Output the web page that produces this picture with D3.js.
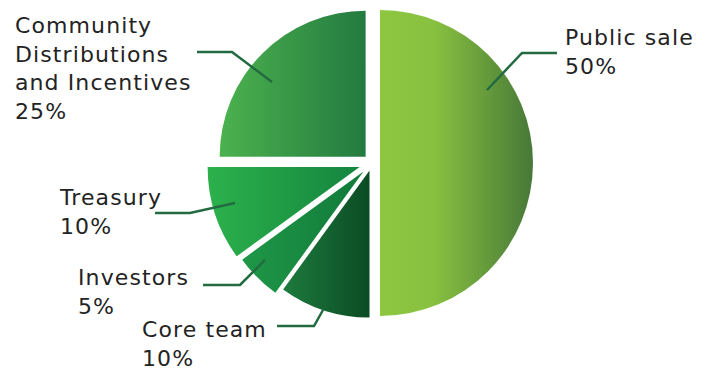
<!DOCTYPE html>
<html>
<head>
<meta charset="utf-8">
<script src="https://cdn.jsdelivr.net/npm/d3@7"></script>
<style>
  body { margin: 0; background: #fff; }
  text { font-family: "DejaVu Sans", sans-serif; fill: #232323; }
</style>
</head>
<body>
<div class="chart"></div>
<script>
// data
var labels = ["Public sale", "Core team", "Investors", "Treasury", "Community Distributions and Incentives"];
var values = [50, 10, 5, 10, 25];
var labelLines = [["Public sale"], ["Core team"], ["Investors"], ["Treasury"], ["Community", "Distributions", "and Incentives"]];

// gradient colours, left -> right
var gradStart = ["#8dc63f", "#1d7b3d", "#1f9747", "#2cb14b", "#4cb24e"];
var gradEnd   = ["#477838", "#0b4b24", "#117a3a", "#14853f", "#237a40"];

var width = 712,
    height = 369,
    cx = 372, cy = 163;

// slices are not all the same size in the original, and each is pulled out a bit
var radii   = [153, 147, 150, 152, 146];
var explode = [8, 8, 12, 13, 9];

// label placement: text anchor + leader line points
var layout = [
  { x: 565, y: 45, line: [[557, 53], [522, 53], [487, 90]] },
  { x: 142, y: 337, line: [[277, 326], [314, 326], [323, 310]] },
  { x: 78,  y: 285, line: [[203, 285], [240, 285], [265, 260]] },
  { x: 60,  y: 205, line: [[155, 213], [190, 213], [235, 203]] },
  { x: 15,  y: 33,  line: [[197, 52], [232, 52], [272, 82]] }
];

var svg = d3.select(".chart")
  .append("svg")
    .attr("width", width)
    .attr("height", height);

var defs = svg.append("defs");

var data = labels.map(function(l, i) { return { label: l, value: values[i], i: i }; });

var pie = d3.pie()
  .sort(null)
  .value(function(d) { return d.value; });

var arcs = pie(data);

var arc = d3.arc()
  .innerRadius(0)
  .outerRadius(function(d) { return radii[d.index]; });

// one horizontal gradient per slice, sized to the slice bounds
arcs.forEach(function(d, i) {
  var g = defs.append("linearGradient")
    .attr("id", "grad" + i)
    .attr("x1", "0").attr("y1", "0")
    .attr("x2", "1").attr("y2", "0");
  g.append("stop").attr("offset", "0").attr("stop-color", gradStart[i]);
  if (i === 0) g.append("stop").attr("offset", "0.35").attr("stop-color", "#88c140");
  g.append("stop").attr("offset", "1").attr("stop-color", gradEnd[i]);
});

var slices = svg.append("g")
  .attr("transform", "translate(" + cx + "," + cy + ")");

slices.selectAll("path")
  .data(arcs)
  .enter()
  .append("path")
    .attr("d", arc)
    .attr("fill", function(d, i) { return "url(#grad" + i + ")"; })
    .attr("transform", function(d, i) {
      var a = (d.startAngle + d.endAngle) / 2;
      return "translate(" + (Math.sin(a) * explode[i]) + "," + (-Math.cos(a) * explode[i]) + ")";
    });

// leader lines
svg.append("g")
  .selectAll("path")
  .data(layout)
  .enter()
  .append("path")
    .attr("d", function(d) { return d3.line()(d.line); })
    .attr("fill", "none")
    .attr("stroke", "#226b40")
    .attr("stroke-width", 2.5);

// labels
var lineH = 28.5;
var lab = svg.append("g")
  .selectAll("text")
  .data(arcs)
  .enter()
  .append("text")
    .attr("x", function(d, i) { return layout[i].x; })
    .attr("y", function(d, i) { return layout[i].y; })
    .style("font-size", "22px")
    .style("letter-spacing", "1.1px");

lab.each(function(d, i) {
  var t = d3.select(this);
  var lines = labelLines[i].concat([d.data.value + "%"]);
  lines.forEach(function(s, k) {
    t.append("tspan")
      .attr("x", layout[i].x)
      .attr("dy", k === 0 ? 0 : lineH)
      .text(s);
  });
});
</script>
</body>
</html>
